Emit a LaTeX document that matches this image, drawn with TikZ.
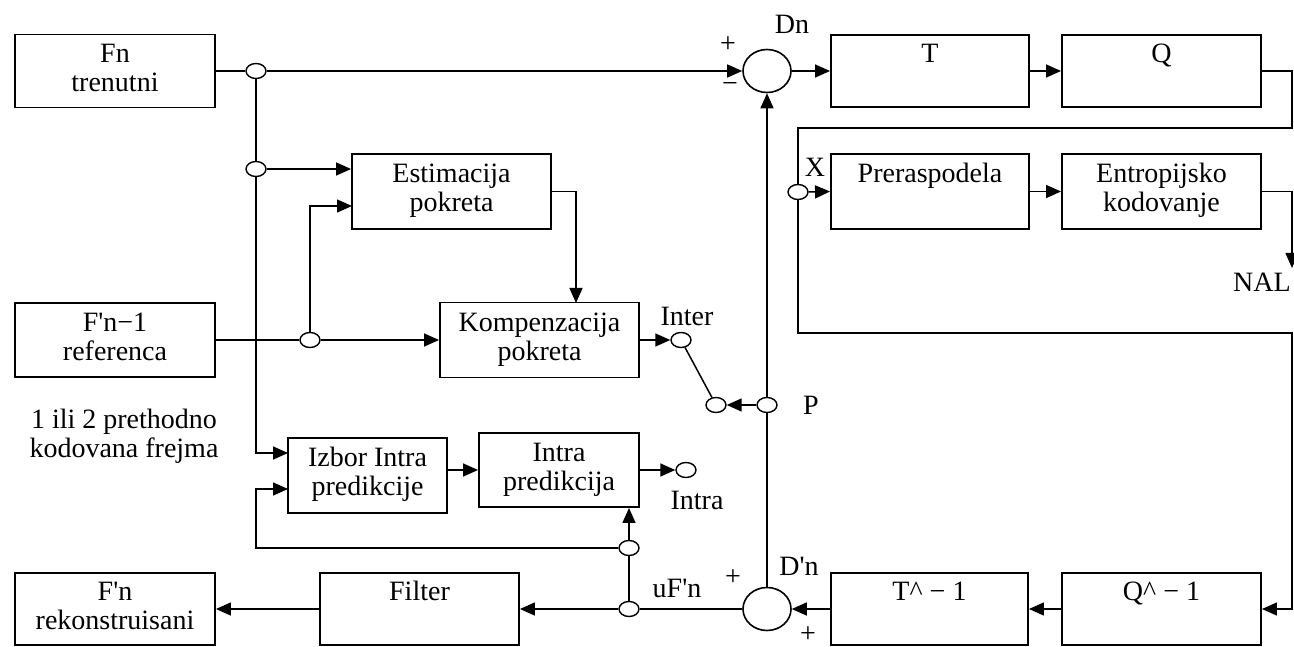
\documentclass[tikz,border=0pt]{standalone}
\usepackage{fontspec}
\setmainfont{Liberation Serif}
\usetikzlibrary{arrows.meta,calc,shapes.geometric}
\newcommand{\ap}{\textquotesingle}
\begin{document}
\begin{tikzpicture}[x=1pt,y=-1pt,
  every node/.style={font=\fontsize{28}{29}\selectfont},
  blk/.style={draw,line width=1.9pt,rectangle,inner sep=0pt,align=center},
  jn/.style={draw,ellipse,line width=1.4pt,minimum width=20pt,minimum height=15pt,inner sep=0pt},
  sm/.style={draw,ellipse,line width=1.6pt,minimum width=48pt,minimum height=43pt,inner sep=0pt},
  ln/.style={line width=1.5pt},
  ar/.style={ln,-{Triangle[length=15pt,width=13pt]}},
  lb/.style={inner sep=0pt}
]
\useasboundingbox (0,0) rectangle (1294,647);

% boxes
\node[blk,minimum width=200pt,minimum height=73pt] (fn) at (115,71) {Fn\strut\\trenutni\strut};
\node[blk,minimum width=199pt,minimum height=75pt] (est) at (451.5,191.5) {Estimacija\strut\\pokreta\strut};
\node[blk,minimum width=200pt,minimum height=74pt] (ref) at (115,340) {F\ap n−1\strut\\referenca\strut};
\node[blk,minimum width=199pt,minimum height=75pt] (komp) at (539.5,340) {Kompenzacija\strut\\pokreta\strut};
\node[blk,minimum width=159pt,minimum height=75pt] (izbor) at (367.5,475.5) {Izbor Intra\strut\\predikcije\strut};
\node[blk,minimum width=160pt,minimum height=74pt] (intra) at (559,470) {Intra\strut\\predikcija\strut};
\node[blk,minimum width=200pt,minimum height=72pt] (rek) at (115,609) {F\ap n\strut\\rekonstruisani\strut};
\node[blk,minimum width=199pt,minimum height=72pt] (filt) at (419.5,609) {Filter\strut\\\strut};
\node[blk,minimum width=198pt,minimum height=72pt] (T) at (930,71) {T\strut\\\strut};
\node[blk,minimum width=199pt,minimum height=72pt] (Q) at (1161.5,71) {Q\strut\\\strut};
\node[blk,minimum width=198pt,minimum height=75pt] (prer) at (930,191.5) {Preraspodela\strut\\\strut};
\node[blk,minimum width=199pt,minimum height=75pt] (entr) at (1161.5,191.5) {Entropijsko\strut\\kodovanje\strut};
\node[blk,minimum width=197pt,minimum height=72pt] (tinv) at (929.5,609) {T\textasciicircum{} − 1\strut\\\strut};
\node[blk,minimum width=199pt,minimum height=72pt] (qinv) at (1161.5,609) {Q\textasciicircum{} − 1\strut\\\strut};

% junctions and summers
\node[jn] (j1) at (256,71) {};
\node[jn] (j2) at (256,169) {};
\node[jn] (j3) at (310,340) {};
\node[jn] (jint) at (681,340) {};
\node[jn] (jsw) at (716,405) {};
\node[jn] (jp) at (767,405) {};
\node[jn] (jintra) at (686,470) {};
\node[jn] (j4) at (629,548) {};
\node[jn] (j5) at (629,609) {};
\node[jn] (xc) at (798,192) {};
\node[sm] (sum1) at (767,71) {};
\node[sm] (sum2) at (767,609) {};

% helper coordinates
\coordinate (estin2) at (352,206);
\coordinate (kompin) at (576,303);
\coordinate (izin1) at (288,453);
\coordinate (izin2) at (288,489);
\coordinate (cnr) at (256,548);
\coordinate (rt1) at (1292,128);
\coordinate (rt2) at (1292,333);
\coordinate (nal) at (1292,268);

% connectors
\draw[ln] (fn.east) -- (j1.west);
\draw[ar] (j1.east) -- (sum1.west);
\draw[ln] (j1.south) -- (j2.north);
\draw[ar] (j2.east) -- (j2 -| est.west);
\draw[ar] (j2.south) |- (izin1);
\draw[ln] (ref.east) -- (j3.west);
\draw[ar] (j3.east) -- (komp.west);
\draw[ar] (j3.north) |- (estin2);
\draw[ar] (est.east) -| (kompin);
\draw[ar] (komp.east) -- (jint.west);
\draw[ln] (jint) -- (jsw);
\draw[ar] (jp.west) -- (jsw.east);
\draw[ln] (sum2.north) -- (jp.south);
\draw[ar] (jp.north) -- (sum1.south);
\draw[ar] (intra.east) -- (jintra.west);
\draw[ar] (izbor.east |- intra.west) -- (intra.west);
\draw[ln] (sum2.west) -- (j5.east);
\draw[ar] (j5.west) -- (filt.east);
\draw[ar] (filt.west) -- (rek.east);
\draw[ln] (j5.north) -- (j4.south);
\draw[ar] (j4.north) -- (j4 |- intra.south);
\draw[ar] (j4.west) -- (cnr) |- (izin2);
\draw[ar] (sum1.east) -- (T.west);
\draw[ar] (T.east) -- (Q.west);
\draw[ln] (Q.east) -| (rt1) -| (xc.north);
\draw[ar] (xc.south) |- (rt2) |- (qinv.east);
\draw[ar] (xc.east) -- (prer.west);
\draw[ar] (prer.east) -- (entr.west);
\draw[ar] (entr.east) -| (nal);
\draw[ar] (qinv.west) -- (tinv.east);
\draw[ar] (tinv.west) -- (sum2.east);

% labels
\node[lb] (lplus1) at (728,45) {+};
\node[lb] (lmin1) at (730,88) {−};
\node[lb] (ldn) at (792,24) {Dn};
\node[lb] (lx) at (815,167) {X};
\node[lb] (lnal) at (1262,282) {NAL};
\node[lb] (linter) at (687,316) {Inter};
\node[lb] (lp) at (811,405) {P};
\node[lb] (lintra) at (697,500) {Intra};
\node[lb] (lufn) at (677,588) {uF\ap n};
\node[lb] (lplus2) at (733,578) {+};
\node[lb] (lplus3) at (808,635) {+};
\node[lb] (ldpn) at (799,566) {D\ap n};
\node[lb,align=center] (lnote) at (124,436) {1 ili 2 prethodno\\kodovana frejma};
\end{tikzpicture}
\end{document}
